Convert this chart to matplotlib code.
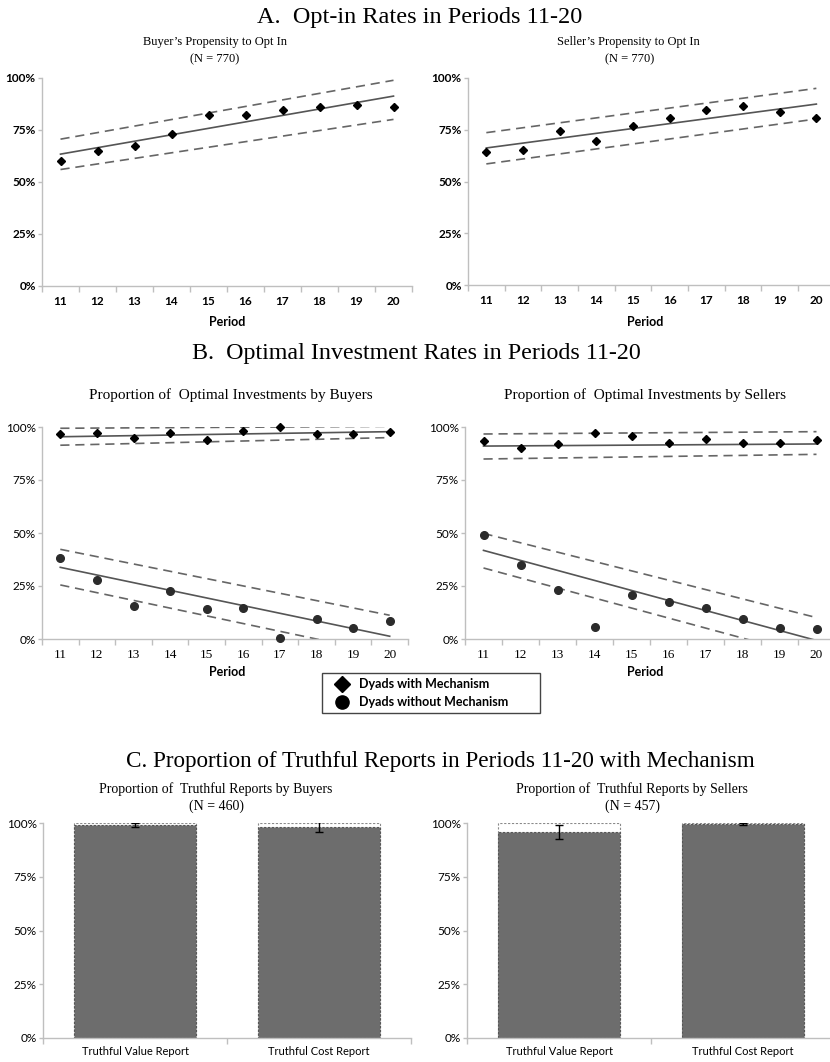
"""Opt-in, optimal investment and truthful reporting rates, periods 11-20."""

import matplotlib as mpl
import matplotlib.pyplot as plt
from matplotlib.lines import Line2D
from matplotlib.patches import Rectangle
from matplotlib.ticker import FixedLocator, PercentFormatter

SERIF = ["Liberation Serif", "DejaVu Serif"]
SANS = ["Lato", "DejaVu Sans"]
INK = "#000000"
DOT = "#2B2B2B"
FIT = "#555555"
BAND = "#666666"
SPINE = "#BFBFBF"
BAR = "#6D6D6D"

PERIODS = [11, 12, 13, 14, 15, 16, 17, 18, 19, 20]
ENDS = [11, 20]

# A. opt-in rates (%)
buyer_optin = [60.2, 65.0, 67.4, 73.0, 82.2, 82.2, 84.6, 85.9, 87.2, 85.9]
buyer_optin_fit = [63.4, 91.3]
buyer_optin_hi = [70.6, 98.9]
buyer_optin_lo = [56.0, 80.1]

seller_optin = [64.1, 65.4, 74.2, 69.4, 76.8, 80.7, 84.5, 86.3, 83.6, 80.7]
seller_optin_fit = [66.2, 87.4]
seller_optin_hi = [73.6, 95.0]
seller_optin_lo = [58.5, 80.2]

# B. optimal investment rates (%)
buyer_mech = [96.5, 97.0, 94.7, 97.0, 93.9, 98.3, 100.0, 96.5, 96.5, 97.8]
buyer_mech_fit = [95.4, 97.8]
buyer_mech_hi = [99.4, 100.3]
buyer_mech_lo = [91.4, 95.0]
buyer_none = [38.1, 27.8, 15.6, 22.5, 14.0, 14.5, 0.5, 9.6, 5.2, 8.3]
buyer_none_fit = [33.8, 1.3]
buyer_none_hi = [42.3, 11.2]
buyer_none_lo = [25.5, -7.3]

seller_mech = [93.2, 90.1, 92.0, 97.0, 95.8, 92.6, 94.3, 92.6, 92.6, 94.0]
seller_mech_fit = [91.0, 92.0]
seller_mech_hi = [96.7, 97.8]
seller_mech_lo = [84.9, 87.1]
seller_none = [49.2, 35.1, 23.3, 5.5, 20.9, 17.6, 14.6, 9.3, 5.0, 4.6]
seller_none_fit = [41.8, -0.7]
seller_none_hi = [49.8, 10.1]
seller_none_lo = [33.5, -9.0]

# C. truthful reports (%)
report_labels = ["Truthful Value Report", "Truthful Cost Report"]
buyer_truth = [99.1, 98.2]
buyer_truth_err = [0.8, 2.3]
seller_truth = [96.0, 99.5]
seller_truth_err = [3.3, 0.4]

legend_labels = ["Dyads with Mechanism", "Dyads without Mechanism"]

W, H = 830, 1062


def box(left, top, right, bottom):
    return [left / W, 1 - bottom / H, (right - left) / W, (bottom - top) / H]


def fig_text(fig, x, y, s, size, family=SERIF, weight="normal", ha="center"):
    fig.text(x / W, 1 - y / H, s, ha=ha, va="center", fontsize=size,
             family=family, weight=weight, color=INK)


def style_axis(ax, ylab_bold=False):
    for side in ["top", "right"]:
        ax.spines[side].set_visible(False)
    for side in ["left", "bottom"]:
        ax.spines[side].set_color(SPINE)
        ax.spines[side].set_linewidth(1.0)
    ax.set_ylim(0, 100)
    ax.set_yticks([0, 25, 50, 75, 100])
    ax.yaxis.set_major_formatter(PercentFormatter(decimals=0))
    ax.tick_params(axis="y", length=3, width=1, color=SPINE, pad=1.5)
    ax.tick_params(axis="x", which="major", length=4, width=1, color=SPINE,
                   labelbottom=False)
    ax.tick_params(axis="x", which="minor", length=0, pad=7)
    for lab in ax.get_yticklabels():
        lab.set_family(SANS)
        lab.set_fontsize(8.5)
        lab.set_weight("bold" if ylab_bold else "normal")
    ax.set_facecolor("white")


def period_axis(ax, right_edge, xfamily, xbold, xsize):
    ax.set_xlim(10.5, right_edge)
    ax.xaxis.set_major_locator(FixedLocator([p + 0.5 for p in [10] + PERIODS]))
    ax.set_xticks(PERIODS, [str(p) for p in PERIODS], minor=True)
    for lab in ax.get_xticklabels(minor=True):
        lab.set_family(xfamily)
        lab.set_fontsize(xsize)
        lab.set_weight("bold" if xbold else "normal")


def trend(ax, fit, hi, lo):
    ax.plot(ENDS, fit, color=FIT, lw=1.2, zorder=2)
    for band in (hi, lo):
        ax.plot(ENDS, band, color=BAND, lw=1.2, ls=(0, (5.5, 3.5)), zorder=2)


def optin_panel(ax, pts, fit, hi, lo, right_edge):
    style_axis(ax, ylab_bold=True)
    period_axis(ax, right_edge, SANS, True, 8.5)
    trend(ax, fit, hi, lo)
    ax.plot(PERIODS, pts, ls="none", marker="D", ms=4.5, color=INK, zorder=3)


def invest_panel(ax, mech, mfit, mhi, mlo, none, nfit, nhi, nlo, right_edge):
    style_axis(ax)
    period_axis(ax, right_edge, SERIF, False, 9.5)
    trend(ax, mfit, mhi, mlo)
    trend(ax, nfit, nhi, nlo)
    ax.plot(PERIODS, mech, ls="none", marker="D", ms=4.5, color=INK, zorder=3,
            clip_on=False)
    ax.plot(PERIODS, none, ls="none", marker="o", ms=5.5, color=DOT, zorder=3,
            clip_on=False)


def report_panel(ax, vals, errs, right_edge):
    style_axis(ax)
    xs = list(range(len(report_labels)))
    ax.set_xlim(-0.5, right_edge)
    ax.bar(xs, [100] * len(xs), width=0.66, color="white", edgecolor="#8A8A8A",
           lw=0.8, ls=(0, (2, 1.5)), zorder=1)
    ax.bar(xs, vals, width=0.66, color=BAR, edgecolor="#555555", lw=0.8,
           ls=(0, (2, 1.5)), zorder=2)
    ax.errorbar(xs, vals, yerr=errs, fmt="none", ecolor=INK, elinewidth=1.0,
                capsize=3, capthick=1.0, zorder=3)
    ax.xaxis.set_major_locator(FixedLocator([-0.5, 0.5, 1.5]))
    ax.set_xticks(xs, report_labels, minor=True)
    ax.tick_params(axis="x", which="minor", length=0, pad=6)
    for lab in ax.get_xticklabels(minor=True):
        lab.set_family(SANS)
        lab.set_fontsize(8)


def legend_box(fig):
    fig.add_artist(Rectangle((322 / W, 1 - 713 / H), 218 / W, 40 / H,
                             transform=fig.transFigure, facecolor="white",
                             edgecolor="#444444", lw=1.0))
    markers = [("D", 8), ("o", 9.5)]
    for (mk, ms), label, y in zip(markers, legend_labels, [684, 702]):
        fig.add_artist(Line2D([342 / W], [1 - y / H], transform=fig.transFigure,
                              ls="none", marker=mk, ms=ms, color=INK))
        fig_text(fig, 359, y, label, 9, SANS, "bold", ha="left")


def main():
    mpl.rcParams["font.family"] = SANS
    fig = plt.figure(figsize=(W / 100, H / 100), dpi=100)
    fig.patch.set_facecolor("white")

    # Panel A
    fig_text(fig, 420, 17, "A.  Opt-in Rates in Periods 11-20", 17.5)
    fig_text(fig, 215, 42, "Buyer\u2019s Propensity to Opt In", 9)
    fig_text(fig, 215, 59, "(N = 770)", 9)
    fig_text(fig, 628, 42, "Seller\u2019s Propensity to Opt In", 9)
    fig_text(fig, 630, 59, "(N = 770)", 9)

    ax = fig.add_axes(box(42, 78, 412, 286))
    optin_panel(ax, buyer_optin, buyer_optin_fit, buyer_optin_hi, buyer_optin_lo, 20.5)
    ax = fig.add_axes(box(468, 78, 830, 285))
    optin_panel(ax, seller_optin, seller_optin_fit, seller_optin_hi, seller_optin_lo,
                10.5 + 362 / 36.67)
    fig_text(fig, 227, 322, "Period", 9, SANS, "bold")
    fig_text(fig, 645, 322, "Period", 9, SANS, "bold")

    # Panel B
    fig_text(fig, 416, 353, "B.  Optimal Investment Rates in Periods 11-20", 17.3)
    fig_text(fig, 231, 395, "Proportion of  Optimal Investments by Buyers", 11)
    fig_text(fig, 645, 395, "Proportion of  Optimal Investments by Sellers", 11)

    ax = fig.add_axes(box(42, 427, 408, 639))
    invest_panel(ax, buyer_mech, buyer_mech_fit, buyer_mech_hi, buyer_mech_lo,
                 buyer_none, buyer_none_fit, buyer_none_hi, buyer_none_lo, 20.5)
    ax = fig.add_axes(box(465, 427, 830, 639))
    invest_panel(ax, seller_mech, seller_mech_fit, seller_mech_hi, seller_mech_lo,
                 seller_none, seller_none_fit, seller_none_hi, seller_none_lo,
                 10.5 + 365 / 37.0)
    fig_text(fig, 227, 672, "Period", 9, SANS, "bold")
    fig_text(fig, 645, 672, "Period", 9, SANS, "bold")
    legend_box(fig)

    # Panel C
    fig_text(fig, 440, 761, "C. Proportion of Truthful Reports in Periods 11-20 with Mechanism", 16.7)
    fig_text(fig, 216, 789, "Proportion of  Truthful Reports by Buyers", 10)
    fig_text(fig, 216, 806, "(N = 460)", 10)
    fig_text(fig, 632, 789, "Proportion of  Truthful Reports by Sellers", 10)
    fig_text(fig, 632, 806, "(N = 457)", 10)

    ax = fig.add_axes(box(43, 823, 411, 1038))
    report_panel(ax, buyer_truth, buyer_truth_err, 1.5)
    ax = fig.add_axes(box(467, 823, 830, 1038))
    report_panel(ax, seller_truth, seller_truth_err, -0.5 + 363 / 184)

    fig.savefig("out.png", dpi=100, facecolor="white")
    plt.close(fig)


if __name__ == "__main__":
    main()
